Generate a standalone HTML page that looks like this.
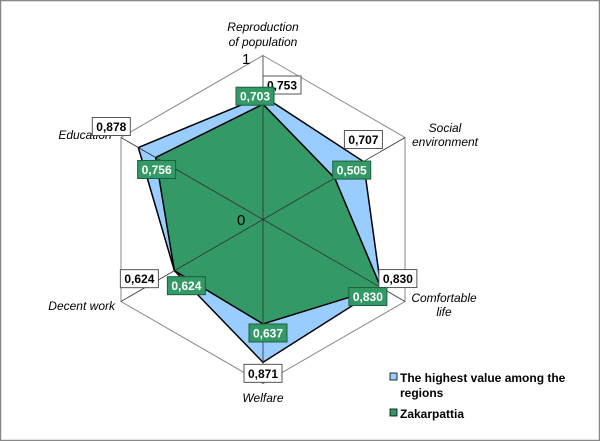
<!DOCTYPE html>
<html><head><meta charset="utf-8"><style>
html,body{margin:0;padding:0;background:#fff}
svg{display:block;font-family:"Liberation Sans",Arial,sans-serif}
</style></head><body>
<svg width="600" height="441" viewBox="0 0 600 441">
<rect x="0.5" y="0.5" width="599" height="440" fill="#fff" stroke="#888" stroke-width="1.5"/>
<g id="grid"></g>
<g id="series"></g>
<g id="labels"></g>
<text x="242" y="64" font-size="15">1</text>
<text x="237" y="225" font-size="15">0</text>
<g font-size="12" font-weight="bold">
<rect x="390" y="373" width="7" height="7" fill="#99CCFF" stroke="#000" stroke-width="0.8"/>
<text x="400" y="382">The highest value among the</text>
<text x="400" y="397">regions</text>
<rect x="390" y="409" width="7" height="7" fill="#339966" stroke="#000" stroke-width="0.8"/>
<text x="400" y="418">Zakarpattia</text>
</g>
</svg>
<script>
const categories = ["Reproduction of population","Social environment","Comfortable life","Welfare","Decent work","Education"];
const highestValues = [0.753, 0.707, 0.830, 0.871, 0.624, 0.878];
const zakarpattiaValues = [0.703, 0.505, 0.830, 0.637, 0.624, 0.756];
const valueLabelsHighest = ["0,753","0,707","0,830","0,871","0,624","0,878"];
const valueLabelsZak = ["0,703","0,505","0,830","0,637","0,624","0,756"];

const NS="http://www.w3.org/2000/svg";
const cx=263, cy=219.5, R=164;
function ang(i){return -Math.PI/2 + i*2*Math.PI/categories.length;}
function pt(i,v){return [cx+R*v*Math.cos(ang(i)), cy+R*v*Math.sin(ang(i))];}
function mk(tag,attrs,parent){const e=document.createElementNS(NS,tag);for(const k in attrs)e.setAttribute(k,attrs[k]);parent.appendChild(e);return e;}
const grid=document.getElementById('grid'), ser=document.getElementById('series'), lab=document.getElementById('labels');

const hex=mk('polygon',{points:categories.map((c,i)=>pt(i,1).join(',')).join(' '),fill:'none',stroke:'#888','stroke-width':1},grid);



function poly(vals,fill,name){
  const p=mk('polygon',{points:vals.map((v,i)=>pt(i,v).join(',')).join(' '),fill:fill,stroke:'#000','stroke-width':1.5,'stroke-linejoin':'miter'},ser);
  
  
}
poly(highestValues,'#99CCFF','series-highest-area');
poly(zakarpattiaValues,'#339966','series-zakarpattia-area');

categories.forEach((c,i)=>{
  const [x,y]=pt(i,1);
  const l=mk('line',{x1:cx,y1:cy,x2:x,y2:y,stroke:'#333','stroke-width':0.8},ser);
  
  
});

// category labels
const catPos=[[263,[31,46],'middle'],[445,[132,146],'middle'],[444,[302,316],'middle'],[263,[402],'middle'],[115,[310],'end'],[85,[139],'middle']];
const catLines=[["Reproduction","of population"],["Social","environment"],["Comfortable","life"],["Welfare"],["Decent work"],["Education"]];
categories.forEach((c,i)=>{
  const t=mk('text',{x:catPos[i][0],'text-anchor':catPos[i][2],'font-size':12,'font-style':'italic'},lab);
  
  
  catLines[i].forEach((s,k)=>{const ts=mk('tspan',{x:catPos[i][0],y:catPos[i][1][k]},t);ts.textContent=s;});
});

// value label offsets relative to point (box center)
const offH=[[19,-11],[0,-22],[17,-9],[0,11],[-35,8],[-27,-21]];
const offZ=[[-8,-8],[17,-8],[-13,9],[5,9],[12,15],[1,12]];
function box(i,v,txt,off,green){
  const [x,y]=pt(i,v);
  const bx=x+off[0], by=y+off[1], w=38, h=18;
  const g=mk('g',{},lab);
  
  
  mk('rect',{x:bx-w/2,y:by-h/2,width:w,height:h,fill:green?'#339966':'#fff',stroke:green?'#1f5f3f':'#555','stroke-width':1},g);
  const t=mk('text',{x:bx,y:by+4.5,'text-anchor':'middle','font-size':12,'font-weight':'bold',fill:green?'#fff':'#000'},g);
  t.textContent=txt;
}
highestValues.forEach((v,i)=>box(i,v,valueLabelsHighest[i],offH[i],false));
zakarpattiaValues.forEach((v,i)=>box(i,v,valueLabelsZak[i],offZ[i],true));
</script>
</body></html>
